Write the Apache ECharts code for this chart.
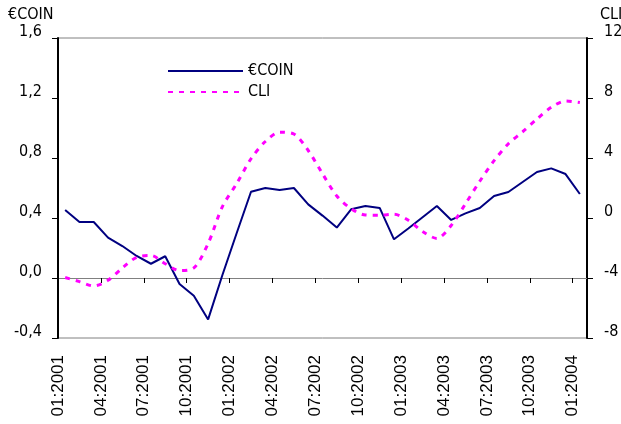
<!DOCTYPE html>
<html>
<head>
<meta charset="utf-8">
<script src="https://cdn.jsdelivr.net/npm/echarts@6/dist/echarts.min.js"></script>
<style>html,body{margin:0;padding:0;background:#fff;}#c{width:621px;height:424px;}</style>
</head>
<body>
<div id="c"></div>
<script>
var months = ['01:2001','02:2001','03:2001','04:2001','05:2001','06:2001','07:2001','08:2001','09:2001','10:2001','11:2001','12:2001',
  '01:2002','02:2002','03:2002','04:2002','05:2002','06:2002','07:2002','08:2002','09:2002','10:2002','11:2002','12:2002',
  '01:2003','02:2003','03:2003','04:2003','05:2003','06:2003','07:2003','08:2003','09:2003','10:2003','11:2003','12:2003',
  '01:2004'];
var ecoin = [0.453,0.373,0.373,0.269,0.213,0.147,0.095,0.145,-0.04,-0.118,-0.276,0.02,0.30,0.575,0.60,0.587,0.60,0.491,0.416,0.336,0.458,0.48,0.467,0.258,0.33,0.405,0.48,0.387,0.431,0.467,0.547,0.573,0.64,0.707,0.731,0.693,0.56];
var cli = [-3.97,-4.24,-4.53,-4.15,-3.33,-2.62,-2.5,-3.05,-3.5,-3.33,-1.7,0.76,2.3,3.95,5.1,5.72,5.6,4.5,2.95,1.47,0.62,0.2,0.18,0.25,-0.15,-0.9,-1.36,-0.5,0.95,2.45,3.82,4.95,5.75,6.6,7.38,7.8,7.7];
var leftTicks = {min:-0.4, max:1.6, step:0.4};
var rightTicks = {min:-8, max:12, step:4};
var seriesNames = ['€COIN','CLI'];

var FONT = "'DejaVu Sans Condensed', 'DejaVu Sans', sans-serif";
var boundaryLabels = months.concat(['']);

var chart = echarts.init(document.getElementById('c'), null, {renderer:'canvas'});
chart.setOption({
  animation: false,
  backgroundColor: '#ffffff',
  title: [
    {text: seriesNames[0], left: 8, top: 7, padding: 0, textStyle: {fontFamily: FONT, fontSize: 16, fontWeight: 'normal', color: '#000'}},
    {text: seriesNames[1], left: 600, top: 7, padding: 0, textStyle: {fontFamily: FONT, fontSize: 16, fontWeight: 'normal', color: '#000'}}
  ],
  legend: {
    data: seriesNames, orient: 'vertical', left: 167, top: 63, padding: 0,
    itemWidth: 75, itemHeight: 14, itemGap: 5,
    itemStyle: {opacity: 0, borderWidth: 0},
    textStyle: {fontFamily: FONT, fontSize: 16, color: '#000'}
  },
  grid: {left: 58, right: 34, top: 38, bottom: 86, show: true, borderColor: '#808080', borderWidth: 1,
         containLabel: false, outerBoundsMode: 'none'},
  xAxis: [
    {type: 'category', data: months, boundaryGap: true,
     axisLine: {onZero: true, onZeroAxisIndex: 0, lineStyle: {color: '#808080', width: 1}},
     axisTick: {show: true, interval: 2, length: 5, lineStyle: {color: '#000'}},
     axisLabel: {show: false}, splitLine: {show: false}},
    {type: 'category', data: boundaryLabels, boundaryGap: false, position: 'bottom',
     axisLine: {show: false, onZero: false}, axisTick: {show: false}, splitLine: {show: false},
     axisLabel: {rotate: 90, margin: 17, fontFamily: "'Liberation Sans', Arial, sans-serif", fontSize: 17, color: '#000',
       interval: function (i) { return i % 3 === 0 && i < months.length; }}}
  ],
  yAxis: [
    {type: 'value', min: leftTicks.min, max: leftTicks.max, interval: leftTicks.step, position: 'left',
     axisLine: {show: true, lineStyle: {color: '#000', width: 2}},
     axisTick: {show: true, length: 6, lineStyle: {color: '#000', width: 1}},
     splitLine: {show: false},
     axisLabel: {margin: 16, fontFamily: FONT, fontSize: 16, color: '#000', verticalAlign: 'bottom', lineHeight: 12,
       formatter: function (v) { return v.toFixed(1).replace('.', ','); }}},
    {type: 'value', min: rightTicks.min, max: rightTicks.max, interval: rightTicks.step, position: 'right',
     axisLine: {show: true, lineStyle: {color: '#000', width: 2}},
     axisTick: {show: true, length: 6, lineStyle: {color: '#000', width: 1}},
     splitLine: {show: false},
     axisLabel: {margin: 17, fontFamily: FONT, fontSize: 16, color: '#000', verticalAlign: 'bottom', lineHeight: 12}}
  ],
  series: [
    {name: seriesNames[0], type: 'line', data: ecoin, xAxisIndex: 0, yAxisIndex: 0, symbol: 'none',
     lineStyle: {color: '#000080', width: 2}, itemStyle: {color: '#000080'}},
    {name: seriesNames[1], type: 'line', data: cli, xAxisIndex: 0, yAxisIndex: 1, symbol: 'none', smooth: 0.3,
     lineStyle: {color: '#ff00ff', width: 3, type: [5, 6]}, itemStyle: {color: '#ff00ff'}}
  ]
});
</script>
</body>
</html>
